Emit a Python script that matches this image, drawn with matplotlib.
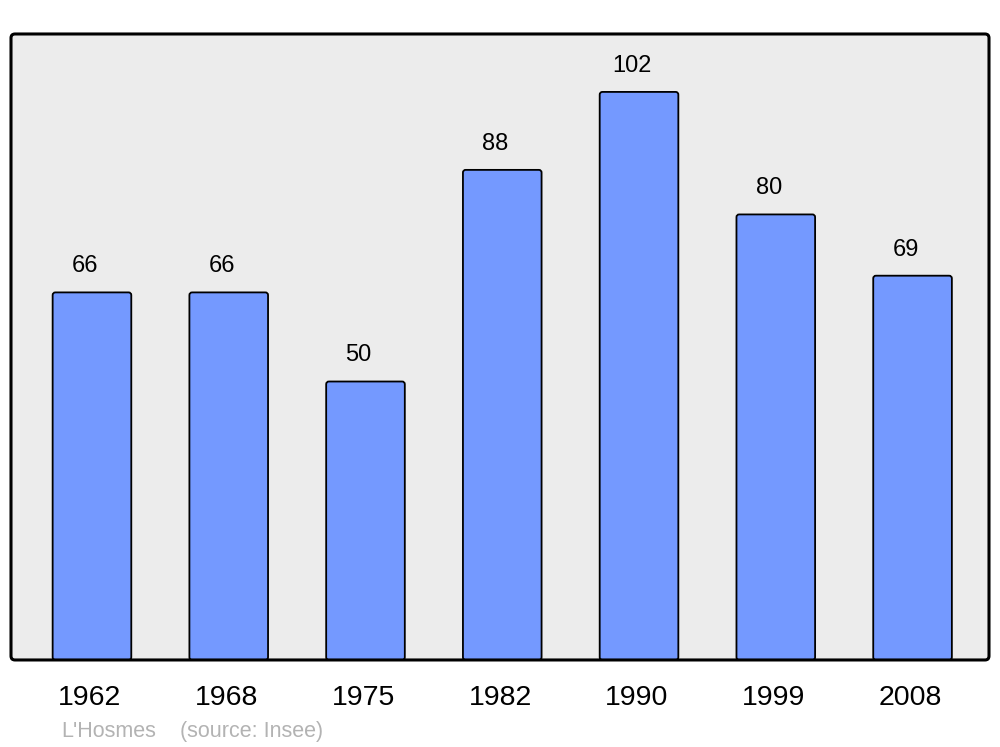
import matplotlib
matplotlib.use("Agg")
import matplotlib.pyplot as plt
from matplotlib.patches import FancyBboxPatch

plt.rcParams['font.family'] = ['Liberation Sans', 'DejaVu Sans']

# Population data
years = ["1962", "1968", "1975", "1982", "1990", "1999", "2008"]
population = [66, 66, 50, 88, 102, 80, 69]
town = "L'Hosmes"
source = "(source: Insee)"

fig = plt.figure(figsize=(10, 7.47), dpi=100)
ax = fig.add_axes([0.011, 0.1165, 0.978, 0.838])
ax.set_xlim(-0.592, 6.559)
ax.set_ylim(0, 112.4)
ax.axis('off')

# Background frame with rounded corners
frame = FancyBboxPatch((0.011, 0.1165), 0.978, 0.838,
                       boxstyle="round,pad=0,rounding_size=0.004",
                       mutation_aspect=1000 / 747,
                       transform=fig.transFigure, facecolor="#ececec",
                       edgecolor="none", zorder=-1)
fig.patches.append(frame)

# bars (rounded)
px_x = 136.75
px_y = 5.57
width = 0.575
for i, v in enumerate(population):
    bar = FancyBboxPatch((i - width / 2, 0), width, v,
                         boxstyle="round,pad=0,rounding_size=0.02",
                         mutation_aspect=px_x / px_y,
                         facecolor="#7499ff", edgecolor="black",
                         linewidth=1.3, zorder=2)
    ax.add_patch(bar)
    ax.annotate(str(v), (i, v), xytext=(-5, 14.5), textcoords="offset points",
                ha="center", va="baseline", fontsize=17, zorder=3)
    ax.annotate(years[i], (i, 0), xytext=(-1.5, -32.5), textcoords="offset points",
                ha="center", va="baseline", fontsize=20.5, annotation_clip=False)

# frame outline on top
outline = FancyBboxPatch((0.011, 0.1165), 0.978, 0.838,
                         boxstyle="round,pad=0,rounding_size=0.004",
                         mutation_aspect=1000 / 747,
                         transform=fig.transFigure, facecolor="none",
                         edgecolor="black", linewidth=2.2, zorder=5)
fig.artists.append(outline)

fig.text(61, 747 - 737, town, transform=None, fontsize=15.5, color="#b3b3b3")
fig.text(180, 747 - 737, source, transform=None, fontsize=15.5, color="#b3b3b3")

fig.savefig("out.png", dpi=100)
